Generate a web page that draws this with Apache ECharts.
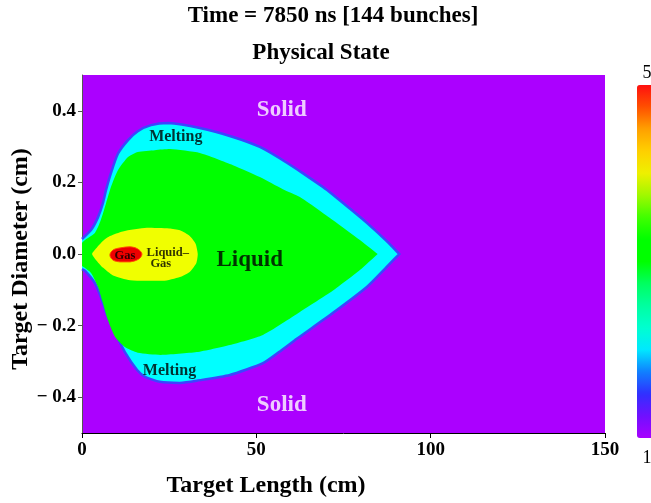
<!DOCTYPE html>
<html>
<head>
<meta charset="utf-8">
<script src="https://cdn.jsdelivr.net/npm/echarts@6/dist/echarts.min.js"></script>
<style>
  html, body { margin: 0; padding: 0; background: #ffffff; }
  #chart { width: 651px; height: 503px; }
</style>
</head>
<body>
<div id="chart"></div>
<script>
// Phase boundaries of the target (x = length in cm, y = diameter in cm)

// Outer edge of the melting zone (solid / melting interface)
const meltTopX = [0, 2.6, 4.6, 6.0, 6.9, 8.3, 10.3, 13.2, 16.0, 19.8, 24.6, 33.8, 43.3, 51.0, 57.6, 63.3, 69.1, 71.9, 76.8, 81.7, 87.4, 91.0];
const meltTopY = [0.042, 0.067, 0.103, 0.142, 0.179, 0.226, 0.280, 0.318, 0.343, 0.360, 0.366, 0.352, 0.327, 0.299, 0.262, 0.226, 0.187, 0.166, 0.127, 0.087, 0.036, 0.0];
const meltBotX = [0, 0.9, 3.7, 5.4, 7.4, 9.5, 12.3, 15.8, 18.1, 22.3, 28.1, 32.9, 42.4, 51.9, 56.5, 61.6, 71.9, 81.7, 87.4, 91.0];
const meltBotY = [-0.042, -0.047, -0.081, -0.120, -0.176, -0.220, -0.274, -0.324, -0.343, -0.357, -0.360, -0.354, -0.338, -0.305, -0.274, -0.237, -0.165, -0.092, -0.036, 0.0];

// Liquid zone edge (melting / liquid interface)
const liqTopX = [0, 3.7, 5.4, 6.9, 8.3, 10.3, 13.2, 16.0, 20.9, 25.2, 33.8, 43.3, 51.0, 57.6, 62.5, 71.9, 79.7, 84.8];
const liqTopY = [0.031, 0.059, 0.095, 0.142, 0.187, 0.234, 0.271, 0.285, 0.290, 0.293, 0.282, 0.248, 0.215, 0.181, 0.159, 0.095, 0.039, 0.0];
const liqBotX = [0, 0.9, 2.6, 4.6, 6.0, 7.4, 9.5, 12.3, 16.0, 22.6, 32.9, 42.4, 51.9, 62.5, 71.9, 79.7, 84.8];
const liqBotY = [-0.033, -0.039, -0.053, -0.092, -0.137, -0.184, -0.232, -0.260, -0.276, -0.282, -0.274, -0.254, -0.226, -0.162, -0.103, -0.045, 0.0];

// Liquid-gas mixture zone outline
const mixX = [2.9, 4.3, 6.0, 8.0, 11.7, 18.6, 25.0, 28.1, 30.9, 32.6, 33.2, 32.8, 30.9, 28.1, 23.2, 13.8, 8.9, 6.0, 4.3];
const mixY = [0.0, 0.018, 0.036, 0.050, 0.063, 0.073, 0.071, 0.066, 0.050, 0.028, 0.0, -0.025, -0.050, -0.064, -0.075, -0.073, -0.060, -0.038, -0.020];

// Gas zone outline
const gasX = [8.0, 8.9, 10.9, 13.8, 16.0, 17.2, 16.3, 13.8, 10.9, 8.9];
const gasY = [-0.003, 0.011, 0.017, 0.020, 0.014, 0.0, -0.014, -0.022, -0.022, -0.017];

// State codes: 1 solid, 2 melting, 3 liquid, 4 liquid-gas, 5 gas
const phaseStates = [2, 3, 4, 5];
const phaseColors = { 1: '#ab00ff', 2: '#00ffff', 3: '#00ff00', 4: '#f0ff00', 5: '#ee0000' };

// Axis ticks and colour scale
const xTicks = [0, 50, 100, 150];
const yTicks = [-0.4, -0.2, 0.0, 0.2, 0.4];
const yTickLabels = ['\u2212 0.4', '\u2212 0.2', '0.0', '0.2', '0.4'];
const stateRange = [1, 5];
const stateRangeLabels = ['5', '1'];

// Region annotations [x, y, text]
const phaseLabels = [
  [57.3, 0.402, 'Solid'],
  [57.3, -0.421, 'Solid'],
  [26.9, 0.327, 'Melting'],
  [25.1, -0.327, 'Melting'],
  [48.1, -0.017, 'Liquid'],
  [12.3, -0.006, 'Gas'],
  [24.6, 0.004, 'Liquid\u2013'],
  [22.6, -0.028, 'Gas']
];

const zip = (xs, ys) => xs.map((x, i) => [x, ys[i]]);
const phasePolys = {
  2: zip(meltTopX, meltTopY).concat(zip(meltBotX, meltBotY).reverse()),
  3: zip(liqTopX, liqTopY).concat(zip(liqBotX, liqBotY).reverse()),
  4: zip(mixX, mixY),
  5: zip(gasX, gasY)
};
const phaseSmooth = { 2: 0.2, 3: 0.2, 4: 0.2, 5: 0.35 };

// Bounding box of a pixel point list, keeps smoothed curves inside the outline's extent
const bbox = pts => {
  const xs = pts.map(p => p[0]), ys = pts.map(p => p[1]);
  return [[Math.min(...xs), Math.min(...ys)], [Math.max(...xs), Math.max(...ys)]];
};

const FONT = '"Liberation Serif", "Times New Roman", serif';

const labelStyles = {
  'Solid':        { fontSize: 23, color: '#ffffff' },
  'Melting':      { fontSize: 16, color: '#000000' },
  'Liquid':       { fontSize: 23, color: '#000000' },
  'Gas':          { fontSize: 12.5, color: '#000000' },
  'Liquid\u2013': { fontSize: 12.5, color: '#000000' }
};

const chart = echarts.init(document.getElementById('chart'), null, { renderer: 'canvas' });

chart.setOption({
  animation: false,
  backgroundColor: '#ffffff',
  graphic: [
    { type: 'text', x: 333, y: 16, style: { text: 'Time = 7850 ns [144 bunches]', font: 'bold 23px ' + FONT, fill: '#000', align: 'center', verticalAlign: 'middle' } },
    { type: 'text', x: 321, y: 53, style: { text: 'Physical State', font: 'bold 23px ' + FONT, fill: '#000', align: 'center', verticalAlign: 'middle' } },
    { type: 'text', x: 266, y: 486, style: { text: 'Target Length (cm)', font: 'bold 24px ' + FONT, fill: '#000', align: 'center', verticalAlign: 'middle' } },
    { type: 'text', x: 21, y: 259, rotation: Math.PI / 2, style: { text: 'Target Diameter (cm)', font: 'bold 24px ' + FONT, fill: '#000', align: 'center', verticalAlign: 'middle' } },
    { type: 'text', x: 647, y: 73, style: { text: stateRangeLabels[0], font: '18px ' + FONT, fill: '#000', align: 'center', verticalAlign: 'middle' } },
    { type: 'text', x: 647, y: 458, style: { text: stateRangeLabels[1], font: '18px ' + FONT, fill: '#000', align: 'center', verticalAlign: 'middle' } }
  ],
  grid: {
    left: 82, right: 46, top: 75, bottom: 70,
    show: true, backgroundColor: phaseColors[1], borderWidth: 0
  },
  xAxis: {
    type: 'value', min: xTicks[0], max: xTicks[xTicks.length - 1], interval: 50,
    splitLine: { show: false },
    axisLine: { show: true, onZero: false, lineStyle: { color: '#000', width: 1 } },
    axisTick: { show: true, length: 5, lineStyle: { color: '#000' } },
    axisLabel: { margin: 8, color: '#000', fontFamily: FONT, fontWeight: 'bold', fontSize: 19 }
  },
  yAxis: {
    type: 'value', min: -0.5, max: 0.5,
    splitLine: { show: false },
    axisLine: { show: true, onZero: false, lineStyle: { color: '#555', width: 1 } },
    axisTick: { show: true, length: 4, customValues: yTicks, lineStyle: { color: '#555' } },
    axisLabel: {
      margin: 6, color: '#000', fontFamily: FONT, fontWeight: 'bold', fontSize: 19,
      customValues: yTicks,
      formatter: v => {
        const i = yTicks.findIndex(t => Math.abs(t - v) < 1e-9);
        return i >= 0 ? yTickLabels[i] : '';
      }
    }
  },
  visualMap: {
    type: 'continuous',
    min: stateRange[0], max: stateRange[1],
    seriesIndex: [],
    calculable: false,
    orient: 'vertical',
    left: 637, top: 85,
    padding: 0,
    itemWidth: 20, itemHeight: 353,
    showLabel: false,
    inRange: {
      color: ['#a800ff', '#7010ff', '#3030ff', '#1080ff', '#00e8ff', '#00ffd0', '#00ffa0', '#00ff60',
              '#00ff00', '#00ff00', '#40ff00', '#a0f800', '#eef000', '#ffd000', '#ffa000', '#ff5000', '#ff1010']
    }
  },
  series: [
    {
      type: 'custom',
      coordinateSystem: 'cartesian2d',
      silent: true,
      data: phaseStates.map(s => [0, 0, s]),
      encode: { x: 0, y: 1 },
      renderItem: (params, api) => {
        const state = phaseStates[params.dataIndex];
        const pts = phasePolys[state].map(p => api.coord(p));
        const smooth = phaseSmooth[state];
        const box = bbox(pts);
        const children = [{
          type: 'polygon',
          shape: { points: pts, smooth: smooth, smoothConstraint: box },
          style: { fill: phaseColors[state] }
        }];
        if (state === 2) {
          children.push({
            type: 'polyline',
            shape: { points: pts, smooth: smooth, smoothConstraint: box },
            style: { fill: null, stroke: '#3c44ff', lineWidth: 2.5 }
          });
        }
        if (state === 5) {
          children[0].style.stroke = '#ff4a00';
          children[0].style.lineWidth = 1;
        }
        return { type: 'group', children: children };
      }
    },
    {
      type: 'scatter',
      silent: true,
      symbolSize: 0,
      data: phaseLabels.map(d => ({
        value: [d[0], d[1]],
        label: {
          show: true, position: 'inside', formatter: d[2],
          fontFamily: FONT, fontWeight: 'bold',
          fontSize: labelStyles[d[2]].fontSize, color: labelStyles[d[2]].color
        }
      }))
    }
  ]
});
</script>
</body>
</html>
